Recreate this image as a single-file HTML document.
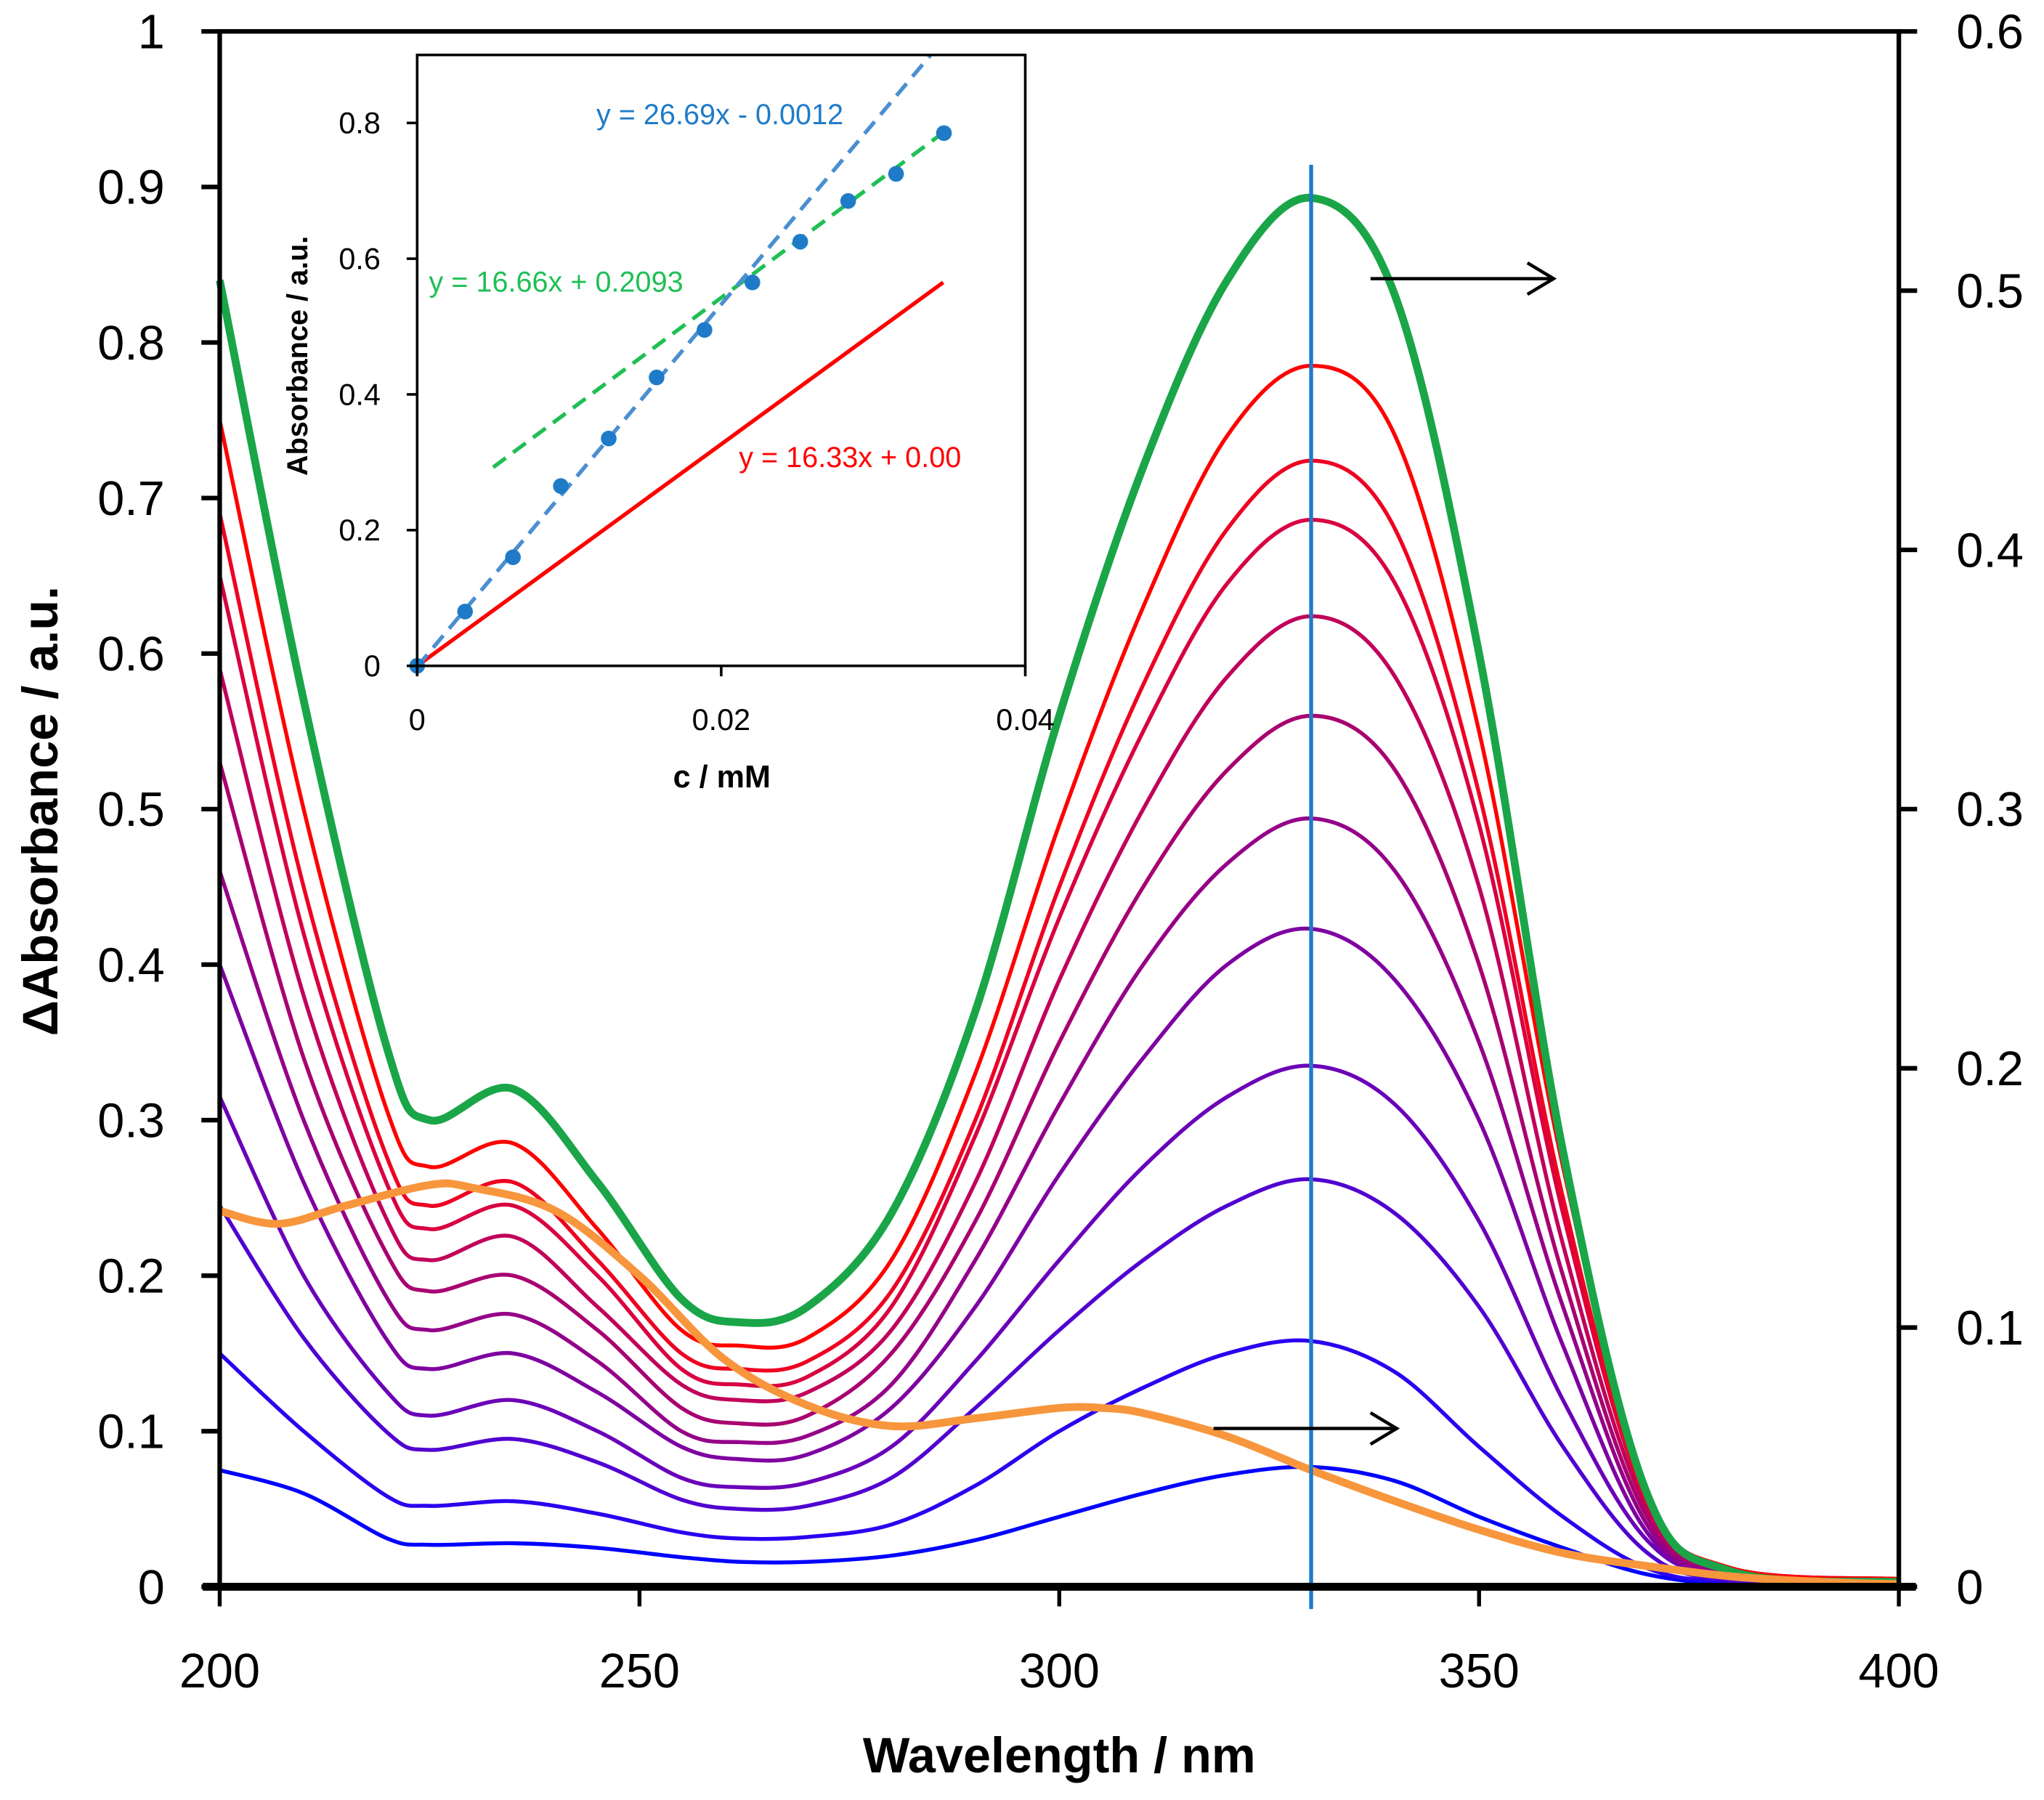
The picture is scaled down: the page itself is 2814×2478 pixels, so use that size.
<!DOCTYPE html>
<html><head><meta charset="utf-8"><style>
html,body{margin:0;padding:0;background:#fff}
svg{display:block}
text{font-family:"Liberation Sans",sans-serif}
</style></head><body>
<svg id="chart" width="2814" height="2478" viewBox="0 0 1563 1376" preserveAspectRatio="none" xmlns="http://www.w3.org/2000/svg">
<g id="main"></g>
<g id="inset"></g>
</svg>
<script>
// ---- Main chart data ----
const wavelengths = [200,210,220,225,235,245,255,262,270,280,290,300,310,320,330,340,350,360,370,380,400];
const seriesGreen = [0.84,0.57,0.345,0.30,0.32,0.26,0.185,0.17,0.18,0.24,0.37,0.56,0.72,0.84,0.893,0.83,0.60,0.28,0.06,0.01,0.003];
const seriesR1  = [0.75,0.50,0.305,0.27,0.285,0.23,0.165,0.155,0.16,0.21,0.33,0.49,0.63,0.74,0.785,0.74,0.55,0.27,0.06,0.012,0.005];
const seriesR2  = [0.69,0.45,0.275,0.245,0.26,0.21,0.15,0.14,0.145,0.19,0.30,0.45,0.58,0.68,0.724,0.68,0.51,0.25,0.055,0.012,0.005];
const seriesR3  = [0.65,0.42,0.258,0.23,0.245,0.20,0.14,0.13,0.135,0.18,0.29,0.43,0.55,0.645,0.686,0.645,0.49,0.24,0.055,0.012,0.005];
const seriesR4  = [0.59,0.38,0.235,0.21,0.225,0.18,0.13,0.12,0.125,0.165,0.26,0.39,0.50,0.585,0.624,0.585,0.45,0.22,0.05,0.01,0.004];
const seriesR5  = [0.53,0.34,0.213,0.19,0.20,0.165,0.115,0.105,0.11,0.15,0.235,0.35,0.45,0.525,0.56,0.525,0.40,0.20,0.045,0.01,0.004];
const seriesR6  = [0.46,0.30,0.185,0.165,0.175,0.145,0.10,0.093,0.097,0.13,0.21,0.31,0.40,0.465,0.494,0.46,0.35,0.18,0.04,0.008,0.003];
const seriesR7  = [0.40,0.26,0.158,0.14,0.15,0.125,0.09,0.082,0.085,0.115,0.18,0.265,0.34,0.40,0.423,0.39,0.30,0.155,0.035,0.007,0.003];
const seriesR8  = [0.315,0.20,0.125,0.11,0.12,0.10,0.07,0.064,0.067,0.09,0.145,0.21,0.27,0.315,0.335,0.31,0.235,0.12,0.03,0.006,0.002];
const seriesR9  = [0.245,0.16,0.099,0.088,0.095,0.08,0.056,0.05,0.052,0.07,0.115,0.165,0.21,0.245,0.262,0.24,0.18,0.09,0.022,0.004,0.002];
const seriesR10 = [0.15,0.10,0.058,0.052,0.055,0.047,0.035,0.031,0.032,0.04,0.065,0.10,0.128,0.15,0.158,0.138,0.09,0.045,0.012,0.003,0.001];
const seriesR11 = [0.075,0.06,0.031,0.027,0.028,0.025,0.019,0.016,0.016,0.02,0.03,0.045,0.06,0.072,0.077,0.068,0.045,0.025,0.008,0.002,0.001];
const orangeWl = [200,207,215,225,230,240,250,260,270,280,290,300,305,310,320,330,340,350,360,370,380,390,400];
const orangeVals = [0.145,0.140,0.147,0.155,0.154,0.145,0.12,0.088,0.07,0.062,0.065,0.069,0.069,0.067,0.058,0.045,0.033,0.022,0.013,0.008,0.004,0.002,0.001];
const xTicks = [200,250,300,350,400];
const yTicksLeft = [0,0.1,0.2,0.3,0.4,0.5,0.6,0.7,0.8,0.9,1];
const yTickLabelsLeft = ["0","0.1","0.2","0.3","0.4","0.5","0.6","0.7","0.8","0.9","1"];
const yTicksRight = [0,0.1,0.2,0.3,0.4,0.5,0.6];
const yTickLabelsRight = ["0","0.1","0.2","0.3","0.4","0.5","0.6"];
const markerWl = 330;
// ---- Inset data ----
const insetConc = [0,0.00315,0.0063,0.00945,0.0126,0.01575,0.0189,0.02205,0.0252,0.02835,0.0315,0.03465];
const insetAbs = [0,0.08,0.16,0.265,0.335,0.425,0.495,0.565,0.625,0.685,0.725,0.785];
const insetXTicks = [0,0.02,0.04];
const insetXLabels = ["0","0.02","0.04"];
const insetYTicks = [0,0.2,0.4,0.6,0.8];
const insetYLabels = ["0","0.2","0.4","0.6","0.8"];
const fitBlue = [26.69,-0.0012];
const fitGreen = [16.66,0.2093];
const fitRed = [16.33,0.0];

const NS="http://www.w3.org/2000/svg";
function mk(parent,tag,attrs){const e=document.createElementNS(NS,tag);for(const k in attrs)e.setAttribute(k,attrs[k]);parent.appendChild(e);return e;}
const X=w=>168+(w-200)/200*1284;
const YL=v=>1213-v*1189;
const YR=v=>1213-v/0.6*1189;
function smooth(pts){let d=`M${pts[0][0]},${pts[0][1]}`;for(let i=0;i<pts.length-1;i++){const p0=pts[Math.max(0,i-1)],p1=pts[i],p2=pts[i+1],p3=pts[Math.min(pts.length-1,i+2)];const c1=[p1[0]+(p2[0]-p0[0])/6,p1[1]+(p2[1]-p0[1])/6],c2=[p2[0]-(p3[0]-p1[0])/6,p2[1]-(p3[1]-p1[1])/6];d+=`C${c1[0]},${c1[1]} ${c2[0]},${c2[1]} ${p2[0]},${p2[1]}`;}return d;}

const main=document.getElementById('main');
const specs=[[seriesR11,'#0000ff'],[seriesR10,'#2a00f0'],[seriesR9,'#5000d0'],[seriesR8,'#6a00b8'],[seriesR7,'#7e00a0'],[seriesR6,'#940088'],[seriesR5,'#a80070'],[seriesR4,'#c0005a'],[seriesR3,'#d80040'],[seriesR2,'#ee0022'],[seriesR1,'#ff0000']];
specs.forEach((s,i)=>{const p=mk(main,'path',{d:smooth(wavelengths.map((w,j)=>[X(w),YL(s[0][j])])),fill:'none',stroke:s[1],'stroke-width':3});

});
const gp=mk(main,'path',{d:smooth(wavelengths.map((w,j)=>[X(w),YL(seriesGreen[j])])),fill:'none',stroke:'#1aa548','stroke-width':6});


const op=mk(main,'path',{d:smooth(orangeWl.map((w,j)=>[X(w),YR(orangeVals[j])])),fill:'none',stroke:'#f7963c','stroke-width':6});


const vl=mk(main,'line',{x1:X(markerWl),x2:X(markerWl),y1:126,y2:1230,stroke:'#1f7bc8','stroke-width':3});


[[1048,1188,213],[928,1068,1092]].forEach((a,i)=>{const g=mk(main,'g',{});


mk(g,'line',{x1:a[0],x2:a[1],y1:a[2],y2:a[2],stroke:'#000','stroke-width':2.5});
mk(g,'path',{d:`M${a[1]-20},${a[2]-12}L${a[1]},${a[2]}L${a[1]-20},${a[2]+12}`,fill:'none',stroke:'#000','stroke-width':2.5});});
const fr=mk(main,'rect',{x:168,y:24,width:1284,height:1189,fill:'none',stroke:'#000','stroke-width':3.5});


mk(main,'line',{x1:155,x2:1465,y1:1213,y2:1213,stroke:'#000','stroke-width':6});
yTicksLeft.forEach((v,i)=>{mk(main,'line',{x1:154,x2:168,y1:YL(v),y2:YL(v),stroke:'#000','stroke-width':3.5});
const t=mk(main,'text',{x:126,y:YL(v)+13,'text-anchor':'end','font-size':37});t.textContent=yTickLabelsLeft[i];

});
yTicksRight.forEach((v,i)=>{mk(main,'line',{x1:1452,x2:1466,y1:YR(v),y2:YR(v),stroke:'#000','stroke-width':3.5});
const t=mk(main,'text',{x:1496,y:YR(v)+13,'font-size':37});t.textContent=yTickLabelsRight[i];

});
xTicks.forEach(v=>{mk(main,'line',{x1:X(v),x2:X(v),y1:1213,y2:1228,stroke:'#000','stroke-width':3});
const t=mk(main,'text',{x:X(v),y:1290,'text-anchor':'middle','font-size':37});t.textContent=String(v);

});
const xt=mk(main,'text',{x:810,y:1355,'text-anchor':'middle','font-size':38,'font-weight':'bold'});xt.textContent='Wavelength / nm';


const yt=mk(main,'text',{x:0,y:0,'text-anchor':'middle','font-size':38,'font-weight':'bold',transform:'translate(44,620) rotate(-90)'});yt.textContent='ΔAbsorbance / a.u.';



const ins=document.getElementById('inset');
const IX=c=>319+c/0.04*465;
const IY=v=>509-v/0.8*415;
mk(ins,'rect',{x:319,y:42,width:465,height:467,fill:'#fff',stroke:'none'});
const rl=mk(ins,'line',{x1:IX(0),y1:IY(fitRed[1]),x2:IX(0.0346),y2:IY(fitRed[0]*0.0346+fitRed[1]),stroke:'#ff0000','stroke-width':3});


const gl=mk(ins,'line',{x1:IX(0.005),y1:IY(fitGreen[0]*0.005+fitGreen[1]),x2:IX(0.0346),y2:IY(fitGreen[0]*0.0346+fitGreen[1]),stroke:'#1fbf55','stroke-width':3,'stroke-dasharray':'12,7'});


const cTop=(0.9-fitBlue[1])/fitBlue[0];
const bl=mk(ins,'line',{x1:IX(0),y1:IY(fitBlue[1]),x2:IX(cTop),y2:IY(0.9),stroke:'#4a8fd0','stroke-width':3,'stroke-dasharray':'12,7'});


insetConc.forEach((c,i)=>{const p=mk(ins,'circle',{cx:IX(c),cy:IY(insetAbs[i]),r:6,fill:'#1f7bc8'});

});
const ib=mk(ins,'rect',{x:319,y:42,width:465,height:467,fill:'none',stroke:'#000','stroke-width':2});


insetYTicks.forEach((v,i)=>{mk(ins,'line',{x1:311,x2:319,y1:IY(v),y2:IY(v),stroke:'#000','stroke-width':2});
const t=mk(ins,'text',{x:291,y:IY(v)+8,'text-anchor':'end','font-size':23});t.textContent=insetYLabels[i];

});
insetXTicks.forEach((v,i)=>{mk(ins,'line',{x1:IX(v),x2:IX(v),y1:509,y2:517,stroke:'#000','stroke-width':2});
const t=mk(ins,'text',{x:IX(v),y:558,'text-anchor':'middle','font-size':23});t.textContent=insetXLabels[i];

});
const ixt=mk(ins,'text',{x:552,y:602,'text-anchor':'middle','font-size':24,'font-weight':'bold'});ixt.textContent='c / mM';


const iyt=mk(ins,'text',{x:0,y:0,'text-anchor':'middle','font-size':22,'font-weight':'bold',transform:'translate(235,272) rotate(-90)'});iyt.textContent='Absorbance / a.u.';


[['y = 26.69x - 0.0012',456,95,'#1f7bc8'],['y = 16.66x + 0.2093',328,223,'#1fbf55'],['y = 16.33x + 0.00',565,357,'#ff0000']].forEach((e,i)=>{
const t=mk(ins,'text',{x:e[1],y:e[2],'font-size':22,fill:e[3]});t.textContent=e[0];

});
</script>
</body></html>
